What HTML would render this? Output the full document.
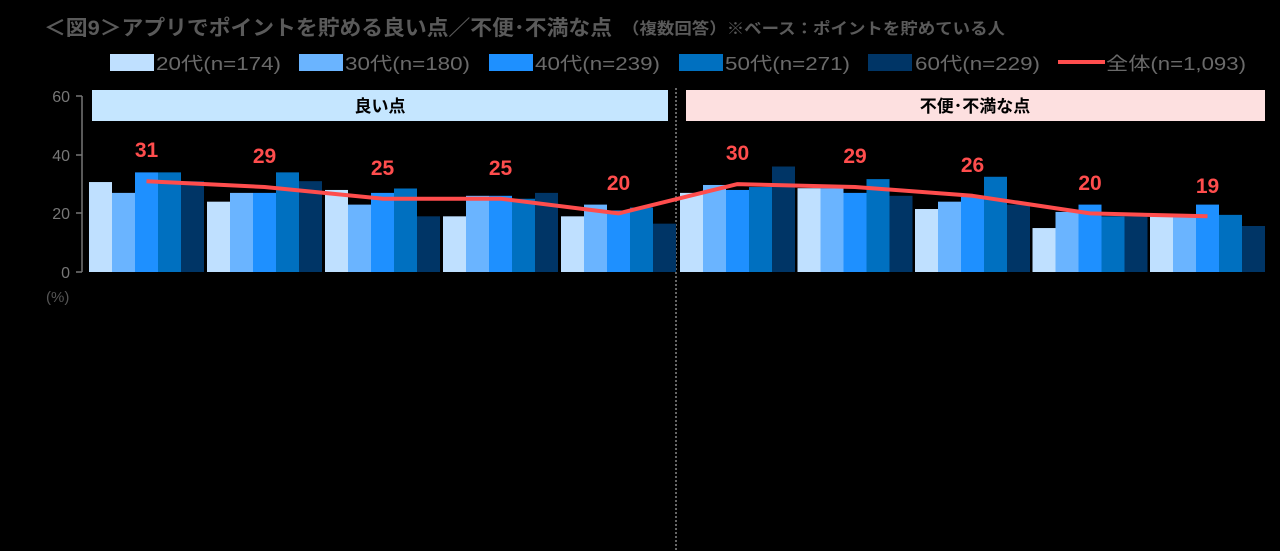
<!DOCTYPE html>
<html><head><meta charset="utf-8"><style>
body{margin:0;background:#000;width:1280px;height:551px;overflow:hidden}
svg{display:block}
text{font-family:"Liberation Sans","Noto Sans CJK JP",sans-serif}
</style></head><body>
<svg width="1280" height="551" viewBox="0 0 1280 551">
<rect width="1280" height="551" fill="#000"/>
<text x="44" y="35" font-size="21" font-weight="bold" fill="#5a5a5a" textLength="568" lengthAdjust="spacingAndGlyphs">＜図9＞アプリでポイントを貯める良い点／不便･不満な点</text>
<text x="622" y="34" font-size="16" font-weight="bold" fill="#5a5a5a" textLength="383" lengthAdjust="spacingAndGlyphs">（複数回答）※ベース：ポイントを貯めている人</text>
<g font-size="18" fill="#6a6a6a">
<rect x="110" y="54" width="44" height="17" fill="#bfe0ff"/><text x="156" y="70" textLength="125" lengthAdjust="spacingAndGlyphs">20代(n=174)</text>
<rect x="299" y="54" width="44" height="17" fill="#6ab4ff"/><text x="345" y="70" textLength="125" lengthAdjust="spacingAndGlyphs">30代(n=180)</text>
<rect x="489" y="54" width="44" height="17" fill="#1e90ff"/><text x="535" y="70" textLength="125" lengthAdjust="spacingAndGlyphs">40代(n=239)</text>
<rect x="679" y="54" width="44" height="17" fill="#0070c0"/><text x="725" y="70" textLength="125" lengthAdjust="spacingAndGlyphs">50代(n=271)</text>
<rect x="868" y="54" width="44" height="17" fill="#003566"/><text x="915" y="70" textLength="125" lengthAdjust="spacingAndGlyphs">60代(n=229)</text>
<rect x="1058" y="60" width="47" height="4" fill="#ff4d4d"/><text x="1106" y="70" textLength="140" lengthAdjust="spacingAndGlyphs">全体(n=1,093)</text>
</g>
<rect x="92" y="90" width="576" height="31" fill="#c5e6ff"/>
<text x="380" y="112" font-size="17" font-weight="bold" text-anchor="middle" fill="#000">良い点</text>
<rect x="686" y="90" width="579" height="31" fill="#fde0e0"/>
<text x="975" y="112" font-size="17" font-weight="bold" text-anchor="middle" fill="#000">不便･不満な点</text>
<line x1="676" y1="88" x2="676" y2="551" stroke="#888" stroke-width="1.5" stroke-dasharray="2,2"/>
<g stroke="#777" stroke-width="1.5"><line x1="82" y1="96" x2="82" y2="272"/><line x1="76" y1="96" x2="82" y2="96"/><line x1="76" y1="155" x2="82" y2="155"/><line x1="76" y1="213" x2="82" y2="213"/><line x1="76" y1="272" x2="82" y2="272"/></g>
<g font-size="16" fill="#777" text-anchor="end"><text x="70" y="102">60</text><text x="70" y="161">40</text><text x="70" y="219">20</text><text x="70" y="278">0</text></g>
<text x="46" y="302" font-size="15" fill="#555">(%)</text>
<g>
<g transform="translate(89,272) scale(1,-2.93)"><rect x="0" width="23" height="30.7" fill="#bfe0ff"/><rect x="23" width="23" height="27" fill="#6ab4ff"/><rect x="46" width="23" height="34" fill="#1e90ff"/><rect x="69" width="23" height="34" fill="#0070c0"/><rect x="92" width="23" height="31" fill="#003566"/></g>
<g transform="translate(207,272) scale(1,-2.93)"><rect x="0" width="23" height="24" fill="#bfe0ff"/><rect x="23" width="23" height="27" fill="#6ab4ff"/><rect x="46" width="23" height="27" fill="#1e90ff"/><rect x="69" width="23" height="34" fill="#0070c0"/><rect x="92" width="23" height="31" fill="#003566"/></g>
<g transform="translate(325,272) scale(1,-2.93)"><rect x="0" width="23" height="28" fill="#bfe0ff"/><rect x="23" width="23" height="23" fill="#6ab4ff"/><rect x="46" width="23" height="27" fill="#1e90ff"/><rect x="69" width="23" height="28.5" fill="#0070c0"/><rect x="92" width="23" height="19" fill="#003566"/></g>
<g transform="translate(443,272) scale(1,-2.93)"><rect x="0" width="23" height="19" fill="#bfe0ff"/><rect x="23" width="23" height="26" fill="#6ab4ff"/><rect x="46" width="23" height="26" fill="#1e90ff"/><rect x="69" width="23" height="25" fill="#0070c0"/><rect x="92" width="23" height="27" fill="#003566"/></g>
<g transform="translate(561,272) scale(1,-2.93)"><rect x="0" width="23" height="19" fill="#bfe0ff"/><rect x="23" width="23" height="23" fill="#6ab4ff"/><rect x="46" width="23" height="21" fill="#1e90ff"/><rect x="69" width="23" height="22" fill="#0070c0"/><rect x="92" width="23" height="16.5" fill="#003566"/></g>
<g transform="translate(680,272) scale(1,-2.93)"><rect x="0" width="23" height="27" fill="#bfe0ff"/><rect x="23" width="23" height="29.7" fill="#6ab4ff"/><rect x="46" width="23" height="28" fill="#1e90ff"/><rect x="69" width="23" height="29" fill="#0070c0"/><rect x="92" width="23" height="36" fill="#003566"/></g>
<g transform="translate(797.5,272) scale(1,-2.93)"><rect x="0" width="23" height="28.6" fill="#bfe0ff"/><rect x="23" width="23" height="28.6" fill="#6ab4ff"/><rect x="46" width="23" height="27" fill="#1e90ff"/><rect x="69" width="23" height="31.7" fill="#0070c0"/><rect x="92" width="23" height="26" fill="#003566"/></g>
<g transform="translate(915,272) scale(1,-2.93)"><rect x="0" width="23" height="21.5" fill="#bfe0ff"/><rect x="23" width="23" height="24" fill="#6ab4ff"/><rect x="46" width="23" height="25.6" fill="#1e90ff"/><rect x="69" width="23" height="32.5" fill="#0070c0"/><rect x="92" width="23" height="23" fill="#003566"/></g>
<g transform="translate(1032.5,272) scale(1,-2.93)"><rect x="0" width="23" height="15" fill="#bfe0ff"/><rect x="23" width="23" height="20.5" fill="#6ab4ff"/><rect x="46" width="23" height="23" fill="#1e90ff"/><rect x="69" width="23" height="19" fill="#0070c0"/><rect x="92" width="23" height="19" fill="#003566"/></g>
<g transform="translate(1150,272) scale(1,-2.93)"><rect x="0" width="23" height="19" fill="#bfe0ff"/><rect x="23" width="23" height="19" fill="#6ab4ff"/><rect x="46" width="23" height="23" fill="#1e90ff"/><rect x="69" width="23" height="19.5" fill="#0070c0"/><rect x="92" width="23" height="15.7" fill="#003566"/></g>
</g>
<polyline points="146.5,181.2 264.5,187 382.5,198.7 500.5,198.7 618.5,213.4 737.5,184.1 855,187 972.5,195.8 1090,213.4 1207.5,216.3" fill="none" stroke="#ff4d4d" stroke-width="4" stroke-linejoin="round"/>
<g font-size="21" font-weight="bold" fill="#ff4d4d" text-anchor="middle">
<text x="146.5" y="157">31</text><text x="264.5" y="163">29</text><text x="382.5" y="175">25</text><text x="500.5" y="175">25</text><text x="618.5" y="190">20</text>
<text x="737.5" y="160">30</text><text x="855" y="163">29</text><text x="972.5" y="172">26</text><text x="1090" y="190">20</text><text x="1207.5" y="193">19</text>
</g>
</svg>
</body></html>
